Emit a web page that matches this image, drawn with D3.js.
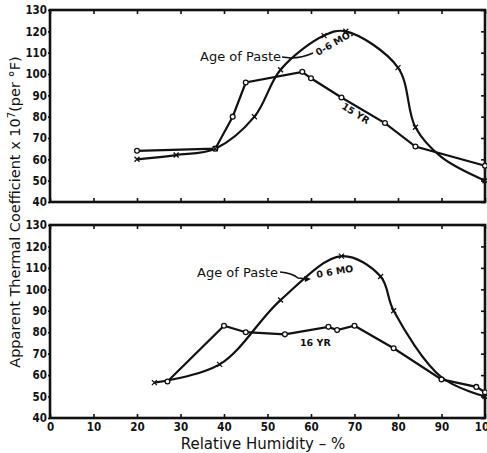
<!DOCTYPE html>
<html>
<head>
<meta charset="utf-8">
<script src="https://cdn.jsdelivr.net/npm/d3@7"></script>
<style>
body { margin: 0; background: #fff; }
text { fill: #111; }
</style>
</head>
<body>
<div id="chart"></div>
<script>
// tick values
const humidityTicks = [0, 10, 20, 30, 40, 50, 60, 70, 80, 90, 100];
const coefTicks = [40, 50, 60, 70, 80, 90, 100, 110, 120, 130];

// upper panel: [relative humidity %, coefficient x 10^7]
const topOldPaste = [[20, 64], [38, 65], [42, 80], [45, 96], [58, 101], [60, 98], [67, 89], [77, 77], [84, 66], [100, 57]];
const topYoungPaste = [[20, 60], [29, 62], [38, 65], [47, 80], [53, 102], [63, 118], [68, 120], [80, 103], [84, 75], [90, 61], [100, 50]];
const topYoungMarks = [20, 29, 38, 47, 53, 63, 68, 80, 84, 100];

// lower panel
const botOldPaste = [[27, 57], [40, 83], [45, 80], [54, 79], [64, 82.5], [66, 81], [70, 83], [79, 72.5], [90, 58], [98, 54.5], [100, 52]];
const botYoungPaste = [[24, 56.5], [39, 65], [53, 95], [67, 115.5], [76, 106], [79, 90], [90, 59], [100, 50]];
const botYoungMarks = [24, 39, 53, 67, 76, 79, 100];

const width = 487, height = 453;
const left = 50, right = 485;

const svg = d3.select("#chart").append("svg")
    .attr("width", width)
    .attr("height", height)
    .style("font-family", "'DejaVu Sans', sans-serif");

const x = d3.scaleLinear().domain([0, 100]).range([left, right]);

const line = d3.line()
    .x(d => x(d[0]));

function drawPanel(top, bottom, oldPaste, youngPaste, youngMarks, showXLabels) {
    const y = d3.scaleLinear().domain([40, 130]).range([bottom, top]);
    const g = svg.append("g");

    // inward ticks on all four sides
    const tickFont = g => g.selectAll("text")
        .style("font-family", "'DejaVu Sans Condensed', 'DejaVu Sans', sans-serif")
        .style("font-weight", "bold")
        .style("font-size", "11.5px");

    g.append("g")
        .attr("transform", `translate(0,${bottom})`)
        .call(d3.axisBottom(x).tickValues(humidityTicks).tickSizeInner(-4).tickSizeOuter(0)
            .tickPadding(5).tickFormat(showXLabels ? d3.format("d") : ""))
        .call(tickFont)
        .call(a => a.select(".domain").remove());
    g.append("g")
        .attr("transform", `translate(0,${top})`)
        .call(d3.axisTop(x).tickValues(humidityTicks).tickSizeInner(-4).tickSizeOuter(0).tickFormat(""))
        .call(a => a.select(".domain").remove());
    g.append("g")
        .attr("transform", `translate(${left},0)`)
        .call(d3.axisLeft(y).tickValues(coefTicks).tickSizeInner(2).tickSizeOuter(0).tickPadding(1))
        .call(tickFont)
        .call(a => a.select(".domain").remove());
    g.append("g")
        .attr("transform", `translate(${right},0)`)
        .call(d3.axisRight(y).tickValues(coefTicks).tickSizeInner(-4).tickSizeOuter(0).tickFormat(""))
        .call(a => a.select(".domain").remove());
    g.selectAll(".tick line").attr("stroke", "#111").attr("stroke-width", 1.6);

    // frame
    g.append("rect")
        .attr("x", left).attr("y", top)
        .attr("width", right - left).attr("height", bottom - top)
        .attr("fill", "none").attr("stroke", "#111").attr("stroke-width", 2.6);

    line.y(d => y(d[1]));

    // older paste: straight segments with open circles
    g.append("path")
        .attr("d", line.curve(d3.curveLinear)(oldPaste))
        .attr("fill", "none").attr("stroke", "#111").attr("stroke-width", 2.2);

    // young paste: smooth curve with crosses
    g.append("path")
        .attr("d", line.curve(d3.curveCatmullRom.alpha(0.5))(youngPaste))
        .attr("fill", "none").attr("stroke", "#111").attr("stroke-width", 2.2);

    g.selectAll(".pt-old").data(oldPaste).join("circle")
        .attr("cx", d => x(d[0])).attr("cy", d => y(d[1]))
        .attr("r", 2.4).attr("fill", "#fff").attr("stroke", "#111").attr("stroke-width", 1.3);

    const marks = youngPaste.filter(d => youngMarks.includes(d[0]));
    g.selectAll(".pt-young").data(marks).join("path")
        .attr("transform", d => `translate(${x(d[0])},${y(d[1])})`)
        .attr("d", "M-2.5,-2.5L2.5,2.5M-2.5,2.5L2.5,-2.5")
        .attr("stroke", "#111").attr("stroke-width", 1.3);

    return {g, y};
}

const upper = drawPanel(10, 202, topOldPaste, topYoungPaste, topYoungMarks, false);
const lower = drawPanel(225, 418, botOldPaste, botYoungPaste, botYoungMarks, true);

// annotations, upper panel
upper.g.append("text").attr("x", 200).attr("y", 61)
    .style("font-size", "13px").text("Age of Paste");
upper.g.append("path")
    .attr("d", "M282,57 L291,58 Q302,58 313,53")
    .attr("fill", "none").attr("stroke", "#111").attr("stroke-width", 1.6);
upper.g.append("text")
    .attr("transform", "translate(318,56) rotate(-30)")
    .style("font-size", "9.5px").style("font-weight", "bold").text("0-6 MO.");
upper.g.append("text")
    .attr("transform", "translate(341,108) rotate(32)")
    .style("font-size", "9.5px").style("font-weight", "bold").text("15 YR");

// annotations, lower panel
lower.g.append("text").attr("x", 197).attr("y", 277)
    .style("font-size", "13px").text("Age of Paste");
lower.g.append("path")
    .attr("d", "M280,272 Q292,273 298,278 L308,279")
    .attr("fill", "none").attr("stroke", "#111").attr("stroke-width", 1.6);
lower.g.append("path")
    .attr("d", "M311,279 L304,276 L305,282 Z").attr("fill", "#111");
lower.g.append("text")
    .attr("transform", "translate(317,278) rotate(-10)")
    .style("font-size", "9.5px").style("font-weight", "bold").text("0 6 MO");
lower.g.append("text").attr("x", 300).attr("y", 346)
    .style("font-size", "9.5px").style("font-weight", "bold").text("16 YR");

// axis titles
svg.append("text")
    .attr("transform", "translate(20,212) rotate(-90)")
    .attr("text-anchor", "middle")
    .style("font-size", "14.5px")
    .text("Apparent Thermal Coefficient x 10")
    .append("tspan").attr("baseline-shift", "super").style("font-size", "10px").text("7")
    .select(function () { return this.parentNode; })
    .append("tspan").text("(per °F)");

svg.append("text")
    .attr("x", 263).attr("y", 449)
    .attr("text-anchor", "middle")
    .style("font-size", "15px")
    .text("Relative Humidity  – %");
</script>
</body>
</html>
